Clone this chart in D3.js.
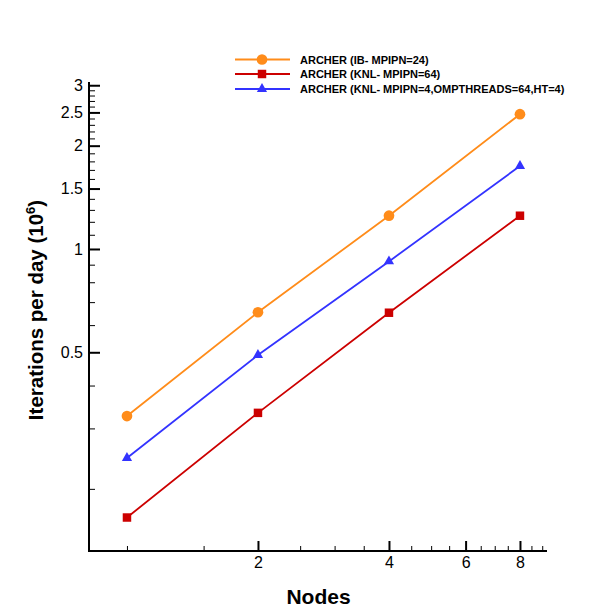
<!DOCTYPE html>
<html>
<head>
<meta charset="utf-8">
<script src="https://cdn.jsdelivr.net/npm/d3@7"></script>
<style>
  body { margin: 0; background: #fff; }
  svg { display: block; font-family: "Liberation Sans", Arial, Helvetica, sans-serif; }
</style>
</head>
<body>
<svg id="chart" width="608" height="615"></svg>
<script>
const nodes = [1, 2, 4, 8];
const ibMpi24 = [0.326, 0.654, 1.25, 2.47];
const knlMpi64 = [0.165, 0.333, 0.652, 1.25];
const knlHybrid = [0.246, 0.491, 0.92, 1.745];
const seriesNames = [
  "ARCHER (IB- MPIPN=24)",
  "ARCHER (KNL- MPIPN=64)",
  "ARCHER (KNL- MPIPN=4,OMPTHREADS=64,HT=4)"
];
const seriesColors = ["#ff8c1a", "#cc0000", "#3333ff"];
const seriesSymbols = ["circle", "square", "triangle"];
const xMajorTicks = [2, 4, 6, 8];
const xMinorTicks = [1, 1.5, 2.5, 3, 3.5, 4.5, 5, 5.5, 6.5, 7, 7.5, 8.5, 9];
const yMajorTicks = [0.5, 1, 1.5, 2, 2.5, 3];
const yMinorTicks = [0.2, 0.3, 0.4, 0.6, 0.7, 0.8, 0.9, 1.1, 1.2, 1.3, 1.4,
  1.6, 1.7, 1.8, 1.9, 2.1, 2.2, 2.3, 2.4, 2.6, 2.7, 2.8, 2.9];

const svg = d3.select("#chart");
const mLeft = 89, mRight = 547, mTop = 82, mBottom = 551;

const x = d3.scaleLog().domain([0.818, 9.23]).range([mLeft, mRight]);
const y = d3.scaleLog().domain([0.1318, 3.066]).range([mBottom, mTop]);

// Axes
const xAxisMajor = d3.axisBottom(x).tickValues(xMajorTicks).tickFormat(d3.format("d"))
  .tickSizeInner(-10).tickSizeOuter(0).tickPadding(6);
const xAxisMinor = d3.axisBottom(x).tickValues(xMinorTicks).tickFormat("")
  .tickSizeInner(-5).tickSizeOuter(0);
const yAxisMajor = d3.axisLeft(y).tickValues(yMajorTicks).tickFormat(d => String(d))
  .tickSizeInner(-11).tickSizeOuter(0).tickPadding(6);
const yAxisMinor = d3.axisLeft(y).tickValues(yMinorTicks).tickFormat("")
  .tickSizeInner(-6).tickSizeOuter(0);

function styleAxis(g, w) {
  g.selectAll(".domain").remove();
  g.selectAll(".tick line").attr("stroke", "#000").attr("stroke-width", w);
  g.selectAll(".tick text").attr("fill", "#000").style("font-size", "16px")
    .style("font-family", "'Liberation Sans', Arial, sans-serif");
}

svg.append("g").attr("transform", `translate(0,${mBottom})`).call(xAxisMinor).call(g => styleAxis(g, 1));
svg.append("g").attr("transform", `translate(0,${mBottom})`).call(xAxisMajor).call(g => styleAxis(g, 2));
svg.append("g").attr("transform", `translate(${mLeft},0)`).call(yAxisMinor).call(g => styleAxis(g, 1));
svg.append("g").attr("transform", `translate(${mLeft},0)`).call(yAxisMajor).call(g => styleAxis(g, 2));

// Axis lines
svg.append("line").attr("x1", mLeft).attr("x2", mRight).attr("y1", mBottom).attr("y2", mBottom)
  .attr("stroke", "#000").attr("stroke-width", 2);
svg.append("line").attr("x1", mLeft).attr("x2", mLeft).attr("y1", mTop).attr("y2", mBottom + 1)
  .attr("stroke", "#000").attr("stroke-width", 2);

// Series
const allSeries = [ibMpi24, knlMpi64, knlHybrid];
const symbolTypes = { circle: d3.symbolCircle, square: d3.symbolSquare, triangle: d3.symbolTriangle };
const symbolSizes = { circle: 90, square: 72, triangle: 45 };
const line = d3.line().x(d => x(d[0])).y(d => y(d[1]));

allSeries.forEach((vals, i) => {
  const pts = nodes.map((n, j) => [n, vals[j]]);
  svg.append("path").datum(pts).attr("d", line)
    .attr("fill", "none").attr("stroke", seriesColors[i]).attr("stroke-width", 1.8);
  const sym = d3.symbol().type(symbolTypes[seriesSymbols[i]]).size(symbolSizes[seriesSymbols[i]]);
  svg.selectAll(null).data(pts).enter().append("path")
    .attr("d", sym)
    .attr("transform", d => `translate(${x(d[0])},${y(d[1])})`)
    .attr("fill", seriesColors[i]);
});

// Legend
const legY = [59.5, 74, 89];
seriesNames.forEach((name, i) => {
  const g = svg.append("g");
  g.append("line").attr("x1", 235).attr("x2", 290).attr("y1", legY[i]).attr("y2", legY[i])
    .attr("stroke", seriesColors[i]).attr("stroke-width", 1.8);
  const sym = d3.symbol().type(symbolTypes[seriesSymbols[i]]).size(symbolSizes[seriesSymbols[i]]);
  g.append("path").attr("d", sym).attr("transform", `translate(262,${legY[i]})`).attr("fill", seriesColors[i]);
  g.append("text").attr("x", 300).attr("y", legY[i] + 4).text(name)
    .style("font-size", "11px").style("font-weight", "bold").attr("fill", "#000");
});

// Axis titles
svg.append("text").attr("x", 318.5).attr("y", 604).attr("text-anchor", "middle")
  .style("font-size", "21px").style("font-weight", "bold").text("Nodes");

const yt = svg.append("text").attr("transform", "translate(43,310) rotate(-90)")
  .attr("text-anchor", "middle").style("font-size", "20.5px").style("font-weight", "bold");
yt.append("tspan").text("Iterations per day (10");
yt.append("tspan").attr("dy", -8).style("font-size", "13px").text("6");
yt.append("tspan").attr("dy", 8).text(")");
</script>
</body>
</html>
